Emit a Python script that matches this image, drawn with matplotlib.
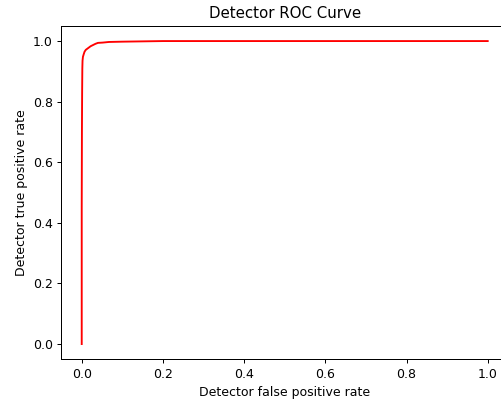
import numpy as np
import matplotlib
matplotlib.use("Agg")
import matplotlib.pyplot as plt

# ROC points
fpr = [0.0, 0.0, 0.0005, 0.001, 0.0015, 0.002, 0.003, 0.005, 0.007, 0.010, 0.014,
       0.018, 0.022, 0.028, 0.034, 0.040, 0.052, 0.067, 0.10, 0.15, 0.2, 0.3,
       0.5, 0.7, 1.0]
tpr = [0.0, 0.45, 0.7, 0.83, 0.91, 0.935, 0.948, 0.957, 0.965, 0.971, 0.975,
       0.979, 0.983, 0.987, 0.991, 0.994, 0.995, 0.997, 0.998, 0.999, 1.0, 1.0,
       1.0, 1.0, 1.0]

dpi = 90
fig = plt.figure(figsize=(501 / dpi, 403 / dpi), dpi=dpi)
ax = fig.add_axes([0.1226, 0.1087, 0.8914, 0.827])
ax.plot(fpr, tpr, color='red')
ax.set_title('Detector ROC Curve')
ax.set_xlabel('Detector false positive rate')
ax.set_ylabel('Detector true positive rate')
fig.savefig('out.png', dpi=dpi)
